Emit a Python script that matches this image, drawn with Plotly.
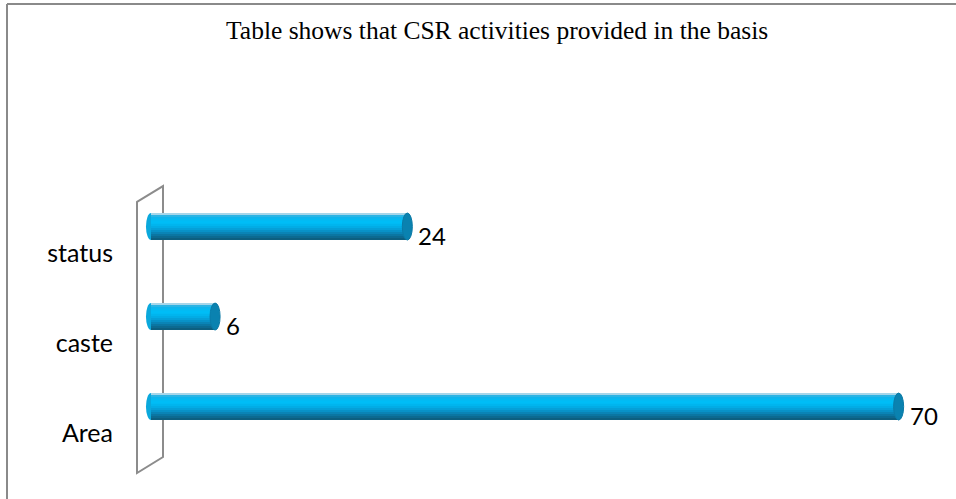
import plotly.graph_objects as go

# ---- data ----
categories = ["Area", "caste", "status"]
values = [70, 6, 24]
positions = [0, 1, 2]
title_text = "Table shows that CSR activities provided in the basis"

# ---- styling ----
band_colors = ["#a6d6ea", "#2cb4e4", "#0cb6ee", "#03bbf3", "#00bdf6", "#00bbf4",
               "#00b5ee", "#02ace5", "#05a0d8", "#0892c8", "#0a84b6", "#0b76a2",
               "#0c6a91", "#0d5f80"]
bar_lift = 0.144      # 3D lift of the bar above its category (axis units)
bar_thick = 0.30
cap_rx = 0.47

fig = go.Figure()
n = len(band_colors)
bh = bar_thick / n
for i, c in enumerate(band_colors):
    off = bar_lift + bar_thick - (i + 1) * bh
    fig.add_trace(go.Bar(
        x=values, y=positions, orientation="h", base=0,
        width=bh * 1.08, offset=off,
        marker=dict(color=c, line=dict(width=0)),
        hoverinfo="skip", showlegend=False,
    ))

shapes = []
# wall (3D back plane)
shapes.append(dict(
    type="path", xref="x", yref="y",
    path="M -1.311,2.567 L 1.124,2.744 L 1.124,-0.267 L -1.311,-0.444 Z",
    line=dict(color="#8c8c8c", width=2), fillcolor="rgba(0,0,0,0)", layer="below"))
# cylinder caps
for v, p in zip(values, positions):
    shapes.append(dict(type="circle", xref="x", yref="y",
                       x0=-cap_rx, x1=cap_rx, y0=p + bar_lift, y1=p + bar_lift + bar_thick,
                       fillcolor="#0aa8dc", line=dict(width=0), layer="below"))
    shapes.append(dict(type="circle", xref="x", yref="y",
                       x0=v - cap_rx, x1=v + cap_rx, y0=p + bar_lift, y1=p + bar_lift + bar_thick,
                       fillcolor="#0a82b0", line=dict(color="#0b7aa6", width=1), layer="above"))
# outer frame (top and left edges)
shapes.append(dict(type="line", xref="paper", yref="paper", x0=-0.15, x1=1.2, y0=1.587, y1=1.587,
                   line=dict(color="#8a8a8a", width=2)))
shapes.append(dict(type="line", xref="paper", yref="paper", x0=-0.15, x1=-0.15, y0=-0.2, y1=1.587,
                   line=dict(color="#8a8a8a", width=2)))

annotations = []
for v, p in zip(values, positions):
    annotations.append(dict(x=v, y=p + 0.19, xref="x", yref="y", text=str(v),
                            showarrow=False, xanchor="left", yanchor="middle", xshift=9,
                            font=dict(family="Lato, Open Sans, sans-serif", size=24, color="#000")))

fig.update_layout(
    width=956, height=499,
    margin=dict(l=130, r=6, t=180, b=19),
    paper_bgcolor="white", plot_bgcolor="white",
    barmode="overlay", bargap=0,
    title=dict(text=title_text, x=0.52, y=0.94, xref="container", yref="container",
               xanchor="center", yanchor="middle",
               font=dict(family="Liberation Serif, Times New Roman, serif", size=25.5, color="#000")),
    xaxis=dict(range=[-1.966, 74.81], visible=False, showgrid=False, zeroline=False),
    yaxis=dict(range=[-0.522, 2.811], tickvals=positions, ticktext=categories,
               showgrid=False, zeroline=False, showline=False, ticks="",
               ticklabelstandoff=16,
               tickfont=dict(family="Lato, Open Sans, sans-serif", size=25, color="#000")),
    shapes=shapes, annotations=annotations,
)

fig.write_html("out.html", config={"displayModeBar": False},
               post_script="document.body.style.margin='0px';")
